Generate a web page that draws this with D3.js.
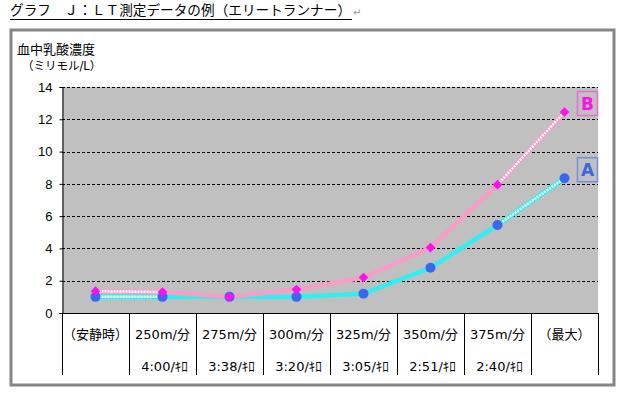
<!DOCTYPE html>
<html>
<head>
<meta charset="UTF-8">
<title>LT測定データ</title>
<style>
    body { margin: 0; padding: 0; background: #ffffff; }
    svg { display: block; font-family: "DejaVu Sans", "Noto Sans CJK JP", sans-serif; }
    .tick text { font-size: 13px; fill: #000; }
</style>
<script src="https://d3js.org/d3.v7.min.js"></script>
</head>
<body>
<div id="chart"></div>
<script>
    // data
    var categories = ["（安静時）", "250m/分", "275m/分", "300m/分", "325m/分", "350m/分", "375m/分", "（最大）"];
    var paces = ["", "4:00/ｷﾛ", "3:38/ｷﾛ", "3:20/ｷﾛ", "3:05/ｷﾛ", "2:51/ｷﾛ", "2:40/ｷﾛ", ""];
    var seriesA = [1.0, 1.0, 1.0, 1.0, 1.2, 2.8, 5.45, 8.35];
    var seriesB = [1.35, 1.3, 1.0, 1.45, 2.2, 4.05, 7.95, 12.45];
    var yTicks = [0, 2, 4, 6, 8, 10, 12, 14];

    var W = 632, H = 393;
    var plot = {left: 62, right: 598, top: 87, bottom: 313};

    var svg = d3.select("#chart").append("svg")
        .attr("width", W)
        .attr("height", H);

    var x = d3.scaleBand()
        .domain(d3.range(categories.length))
        .range([plot.left, plot.right]);

    var y = d3.scaleLinear()
        .domain([0, 14])
        .range([plot.bottom, plot.top]);

    // title
    svg.append("text")
        .attr("x", 10).attr("y", 15)
        .attr("font-size", 13.6)
        .attr("font-family", "'Noto Sans CJK JP', sans-serif")
        .attr("fill", "#000")
        .attr("textLength", 341)
        .text("グラフ　Ｊ：ＬＴ測定データの例（エリートランナー）");
    svg.append("line")
        .attr("x1", 10).attr("x2", 352)
        .attr("y1", 19.5).attr("y2", 19.5)
        .attr("stroke", "#000");
    svg.append("text")
        .attr("x", 353).attr("y", 16)
        .attr("font-size", 10)
        .attr("fill", "#999")
        .text("↵");

    // outer frame
    svg.append("rect")
        .attr("x", 11).attr("y", 30)
        .attr("width", 603).attr("height", 355)
        .attr("fill", "#fff")
        .attr("stroke", "#868686")
        .attr("stroke-width", 3);

    // axis title
    svg.append("text")
        .attr("x", 17).attr("y", 54)
        .attr("font-size", 13)
        .text("血中乳酸濃度");
    svg.append("text")
        .attr("x", 22).attr("y", 70)
        .attr("font-size", 11.5)
        .text("（ミリモル/L）");

    // plot background
    svg.append("rect")
        .attr("x", plot.left).attr("y", plot.top)
        .attr("width", plot.right - plot.left)
        .attr("height", plot.bottom - plot.top)
        .attr("fill", "#c0c0c0");

    // grid
    svg.append("g")
        .selectAll("line")
        .data(yTicks.filter(function(d) { return d > 0; }))
        .enter().append("line")
        .attr("x1", plot.left).attr("x2", plot.right)
        .attr("y1", function(d) { return Math.round(y(d)) + 0.5; })
        .attr("y2", function(d) { return Math.round(y(d)) + 0.5; })
        .attr("stroke", "#000")
        .attr("stroke-dasharray", "3,2");

    // y axis
    var yAxis = svg.append("g")
        .attr("transform", "translate(" + (plot.left + 0.5) + ",0)")
        .call(d3.axisLeft(y).tickValues(yTicks).tickSize(3).tickPadding(7));
    yAxis.select(".domain").attr("stroke", "#000");

    // table under the x axis
    svg.append("line")
        .attr("x1", plot.left).attr("x2", plot.right)
        .attr("y1", plot.bottom + 0.5).attr("y2", plot.bottom + 0.5)
        .attr("stroke", "#000");
    svg.append("g")
        .selectAll("line")
        .data(d3.range(categories.length + 1))
        .enter().append("line")
        .attr("x1", function(i) { return Math.round(plot.left + i * x.bandwidth()) + 0.5; })
        .attr("x2", function(i) { return Math.round(plot.left + i * x.bandwidth()) + 0.5; })
        .attr("y1", plot.bottom).attr("y2", 375)
        .attr("stroke", "#000");

    svg.append("g")
        .selectAll("text")
        .data(categories)
        .enter().append("text")
        .attr("x", function(d, i) { return x(i) + x.bandwidth() / 2; })
        .attr("y", 339)
        .attr("text-anchor", "middle")
        .attr("font-size", 13)
        .text(function(d) { return d; });

    svg.append("g")
        .selectAll("text")
        .data(paces)
        .enter().append("text")
        .attr("x", function(d, i) { return x(i) + x.bandwidth() / 2 + 2; })
        .attr("y", 371)
        .attr("text-anchor", "middle")
        .attr("font-size", 13)
        .text(function(d) { return d; });

    // series
    function cx(i) { return x(i) + x.bandwidth() / 2; }

    function drawSeries(values, color) {
        var g = svg.append("g");
        var n = values.length;
        // middle segments: solid
        var mid = d3.line()
            .x(function(d) { return cx(d); })
            .y(function(d) { return y(values[d]); });
        g.append("path")
            .attr("d", mid(d3.range(1, n - 1)))
            .attr("fill", "none")
            .attr("stroke", color)
            .attr("stroke-width", 4.5)
            .attr("stroke-linejoin", "round");
        // first and last segments: patterned
        [[0, 1], [n - 2, n - 1]].forEach(function(seg) {
            g.append("path")
                .attr("d", mid(seg))
                .attr("stroke", color)
                .attr("stroke-width", 5);
            g.append("path")
                .attr("d", mid(seg))
                .attr("stroke", "#fff")
                .attr("stroke-width", 2.5)
                .attr("stroke-dasharray", "2,1");
        });
        return g;
    }

    drawSeries(seriesA, "#33eef0");
    drawSeries(seriesB, "#f79ec8");

    svg.append("g")
        .selectAll("circle")
        .data(seriesA)
        .enter().append("circle")
        .attr("cx", function(d, i) { return cx(i); })
        .attr("cy", function(d) { return y(d); })
        .attr("r", 5)
        .attr("fill", "#3a66f0");

    svg.append("g")
        .selectAll("path")
        .data(seriesB)
        .enter().append("path")
        .attr("d", d3.symbol().type(d3.symbolDiamond2).size(60))
        .attr("transform", function(d, i) { return "translate(" + cx(i) + "," + y(d) + ")"; })
        .attr("fill", "#ff10f0");

    // series labels
    var tags = [
        {name: "B", value: seriesB[7], text: "#ff10e8", border: "#e070d8"},
        {name: "A", value: seriesA[7], text: "#3a66e0", border: "#6f8fe0"}
    ];
    tags.forEach(function(t) {
        var cyv = y(t.value) - 8;
        svg.append("rect")
            .attr("x", 577.5).attr("y", cyv - 12.5)
            .attr("width", 20).attr("height", 24)
            .attr("fill", "none")
            .attr("stroke", t.border)
            .attr("stroke-width", 1.5);
        svg.append("text")
            .attr("x", 587.5).attr("y", cyv + 6)
            .attr("text-anchor", "middle")
            .attr("font-size", 17)
            .attr("font-weight", "bold")
            .attr("fill", t.text)
            .text(t.name);
    });
</script>
</body>
</html>
